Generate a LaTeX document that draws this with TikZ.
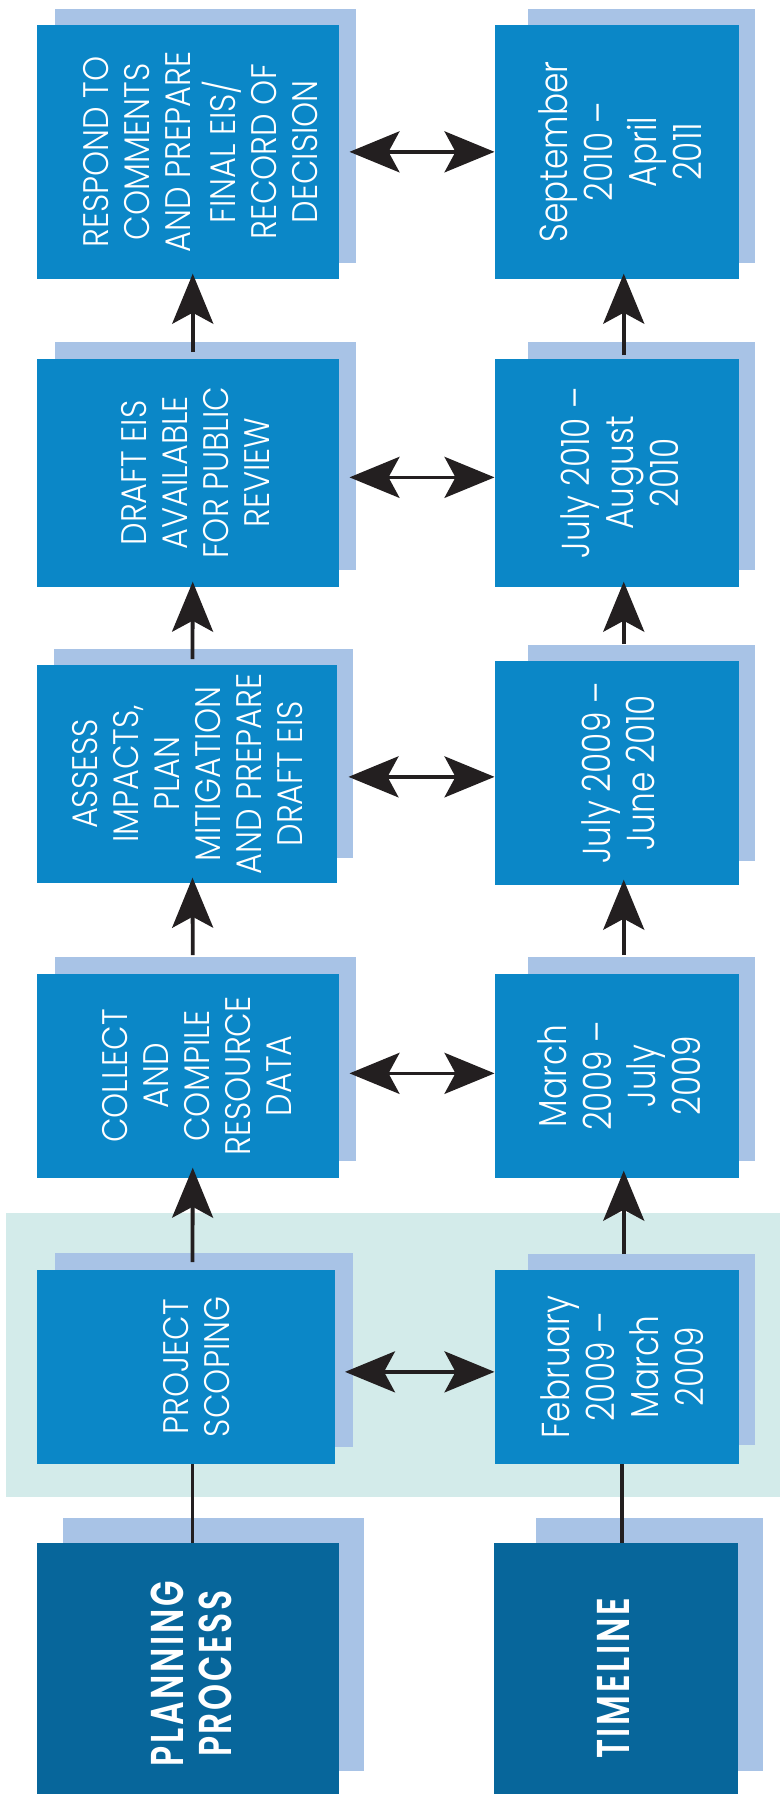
\documentclass[tikz,border=0pt]{standalone}
\usepackage{fontspec}
\setmainfont{Poppins}[UprightFont=* Light, BoldFont=* SemiBold]
\usetikzlibrary{arrows.meta}
\definecolor{boxblue}{HTML}{0B87C7}
\definecolor{shadowblue}{HTML}{A8C3E6}
\definecolor{headblue}{HTML}{07669B}
\definecolor{bandteal}{HTML}{D3EBEA}
\definecolor{arrowdark}{HTML}{231F20}
\newcommand{\ltext}[1]{\rotatebox{90}{\scalebox{0.9}[1]{\fontsize{35.5}{41}\selectfont\begin{tabular}{@{}c@{}}#1\end{tabular}}}}
\newcommand{\rtext}[1]{\rotatebox{90}{\scalebox{0.84}[1]{\fontsize{39}{44.5}\selectfont\begin{tabular}{@{}c@{}}#1\end{tabular}}}}
\newcommand{\htext}[1]{\rotatebox{90}{\scalebox{0.72}[1]{\fontsize{46}{48}\selectfont\bfseries\addfontfeature{LetterSpace=8}\begin{tabular}{@{}c@{}}#1\end{tabular}}}}
\tikzset{
  mainbox/.style={fill=boxblue, draw=none, inner sep=0pt, outer sep=0pt},
  headbox/.style={fill=headblue, draw=none, inner sep=0pt, outer sep=0pt},
  shadowbox/.style={fill=shadowblue, draw=none, inner sep=0pt, outer sep=0pt},
  lbl/.style={text=white, inner sep=0pt, outer sep=0pt},
  conn/.style={draw=arrowdark, line width=3.8pt},
  uparrow/.style={conn, -{Stealth[length=50pt,width=41pt,inset=11pt]}},
  dblarrow/.style={draw=arrowdark, line width=3.4pt, {Stealth[length=50pt,width=41pt,inset=11pt]}-{Stealth[length=50pt,width=41pt,inset=11pt]}}
}
\begin{document}
\begin{tikzpicture}[x=1pt,y=-1pt]
\useasboundingbox (0,0) rectangle (780,1794);
% highlight band
\fill[bandteal] (6,1213) rectangle (780,1497);
% shadows
\node[shadowbox, minimum width=301pt, minimum height=253.7pt] (L1s) at (205,135.85) {};
\node[shadowbox, minimum width=227pt, minimum height=253.7pt] (R1s) at (641,135.85) {};
\node[shadowbox, minimum width=301pt, minimum height=227.7pt] (L2s) at (205,455.85) {};
\node[shadowbox, minimum width=227pt, minimum height=227.7pt] (R2s) at (641,455.85) {};
\node[shadowbox, minimum width=299pt, minimum height=208.7pt] (L3s) at (203.5,753.35) {};
\node[shadowbox, minimum width=227pt, minimum height=215.7pt] (R3s) at (641,752.85) {};
\node[shadowbox, minimum width=301pt, minimum height=203.7pt] (L4s) at (205,1058.85) {};
\node[shadowbox, minimum width=227pt, minimum height=203.7pt] (R4s) at (641,1058.85) {};
\node[shadowbox, minimum width=298.5pt, minimum height=194pt] (L5s) at (203.75,1349.7) {};
\node[shadowbox, minimum width=227pt, minimum height=191pt] (R5s) at (641,1349.5) {};
\node[shadowbox, minimum width=301.5pt, minimum height=252.7pt] (LHs) at (213.25,1644.35) {};
\node[shadowbox, minimum width=227.5pt, minimum height=252.7pt] (RHs) at (649.25,1644.35) {};
% main boxes
\node[mainbox, minimum width=301.5pt, minimum height=253.7pt] (L1) at (187.75,151.85) {};
\node[mainbox, minimum width=244.5pt, minimum height=253.7pt] (R1) at (616.75,151.85) {};
\node[mainbox, minimum width=301.5pt, minimum height=227.7pt] (L2) at (187.75,472.85) {};
\node[mainbox, minimum width=244.5pt, minimum height=227.7pt] (R2) at (616.75,472.85) {};
\node[mainbox, minimum width=299.5pt, minimum height=217.7pt] (L3) at (186.75,773.85) {};
\node[mainbox, minimum width=244.5pt, minimum height=223.7pt] (R3) at (616.75,772.85) {};
\node[mainbox, minimum width=301.5pt, minimum height=203.7pt] (L4) at (187.75,1075.85) {};
\node[mainbox, minimum width=244.5pt, minimum height=203.7pt] (R4) at (616.75,1075.85) {};
\node[mainbox, minimum width=298pt, minimum height=193.7pt] (L5) at (186,1366.85) {};
\node[mainbox, minimum width=244.5pt, minimum height=193.7pt] (R5) at (616.75,1366.85) {};
\node[headbox, minimum width=301.5pt, minimum height=251pt] (LH) at (187.75,1668.5) {};
\node[headbox, minimum width=244.5pt, minimum height=251pt] (RH) at (615.75,1668.5) {};
% texts
\node[lbl] (L1t) at ([xshift=17pt]L1.center) {\ltext{RESPOND TO\\COMMENTS\\AND PREPARE\\FINAL EIS/\\RECORD OF\\DECISION}};
\node[lbl] (R1t) at ([xshift=9pt]R1.center) {\rtext{September\\2010 –\\April\\2011}};
\node[lbl] (L2t) at ([xshift=12pt]L2.center) {\ltext{DRAFT EIS\\AVAILABLE\\FOR PUBLIC\\REVIEW}};
\node[lbl] (R2t) at ([xshift=8pt]R2.center) {\rtext{July 2010 –\\August\\2010}};
\node[lbl] (L3t) at ([xshift=5pt]L3.center) {\ltext{ASSESS\\IMPACTS,\\PLAN\\MITIGATION\\AND PREPARE\\DRAFT EIS}};
\node[lbl] (R3t) at ([xshift=7pt]R3.center) {\rtext{July 2009 –\\June 2010}};
\node[lbl] (L4t) at ([xshift=14pt]L4.center) {\ltext{COLLECT\\AND\\COMPILE\\RESOURCE\\DATA}};
\node[lbl] (R4t) at ([xshift=8pt]R4.center) {\rtext{March\\2009 –\\July\\2009}};
\node[lbl] (L5t) at ([xshift=15pt]L5.center) {\ltext{PROJECT\\SCOPING}};
\node[lbl] (R5t) at ([xshift=11pt]R5.center) {\rtext{February\\2009 –\\March\\2009}};
\node[lbl] (LHt) at ([xshift=10pt,yshift=-5pt]LH.center) {\htext{PLANNING\\PROCESS}};
\node[lbl] (RHt) at ([xshift=4pt,yshift=-10pt]RH.center) {\htext{TIMELINE}};
% horizontal double arrows
\draw[dblarrow] ([xshift=11pt,yshift=0pt]L1.east) coordinate (a1) -- (a1 -| R1.west);
\draw[dblarrow] ([xshift=11pt,yshift=-4.5pt]L2.east) coordinate (a2) -- (a2 -| R2.west);
\draw[dblarrow] ([xshift=12pt,yshift=-3pt]L3.east) coordinate (a3) -- (a3 -| R3.west);
\draw[dblarrow] ([xshift=11pt,yshift=2.5pt]L4.east) coordinate (a4) -- (a4 -| R4.west);
\draw[dblarrow] ([xshift=10pt,yshift=-5pt]L5.east) coordinate (a5) -- (a5 -| R5.west);
% vertical arrows
\draw[uparrow] ([xshift=5pt,yshift=7pt]L2.north) -- ([xshift=5pt,yshift=5pt]L1.south);
\draw[uparrow] ([xshift=7pt,yshift=4pt]R2.north) -- ([xshift=7pt,yshift=5pt]R1.south);
\draw[uparrow] ([xshift=5.75pt,yshift=6pt]L3.north) -- ([xshift=5pt,yshift=5pt]L2.south);
\draw[uparrow] ([xshift=7pt,yshift=17pt]R3.north) -- ([xshift=7pt,yshift=5pt]R2.south);
\draw[uparrow] ([xshift=5pt,yshift=19pt]L4.north) -- ([xshift=5.75pt,yshift=5pt]L3.south);
\draw[uparrow] ([xshift=7pt,yshift=19pt]R4.north) -- ([xshift=7pt,yshift=5pt]R3.south);
\draw[uparrow] ([xshift=6.5pt,yshift=8pt]L5.north) -- ([xshift=5pt,yshift=10pt]L4.south);
\draw[uparrow] ([xshift=7pt,yshift=16pt]R5.north) -- ([xshift=7pt,yshift=7pt]R4.south);
% plain connectors from headers
\draw[conn] (LH.north -| L5.south) ++(6.5pt,0) coordinate (h1) -- (h1 |- L5.south);
\draw[conn] ([xshift=6.25pt]RH.north) -- ([xshift=6.25pt]RH.north |- R5.south);
\end{tikzpicture}
\end{document}
